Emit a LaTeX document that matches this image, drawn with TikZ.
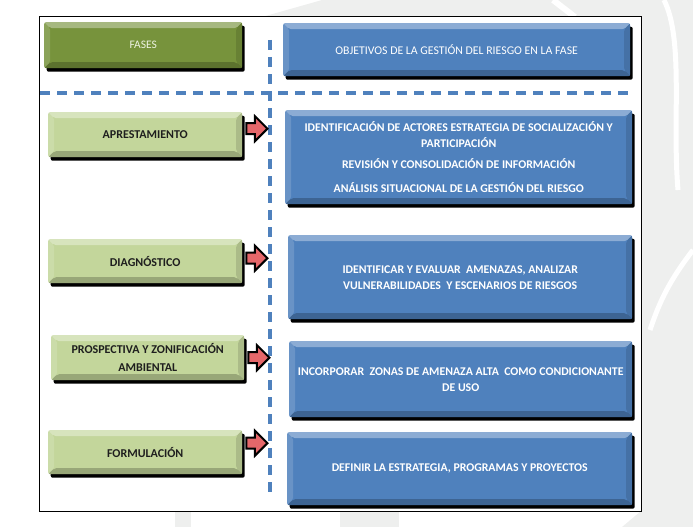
\documentclass[tikz,border=0pt]{standalone}
\usepackage{fontspec}
\setmainfont{Carlito}
\usetikzlibrary{positioning,shadows,shapes.arrows}
\definecolor{hdgreen}{HTML}{77933C}
\definecolor{phgreen}{HTML}{C3D69B}
\definecolor{objblue}{HTML}{4F81BD}
\definecolor{arrred}{HTML}{E5676A}
\definecolor{hdtext}{HTML}{EEF3E2}
\definecolor{phtext}{HTML}{1E1E1E}
\definecolor{wmark}{HTML}{EEEFEE}
\def\bw{6pt}
\tikzset{
  bevel/.style={path picture={
    \coordinate (pnw) at (path picture bounding box.north west);
    \coordinate (pne) at (path picture bounding box.north east);
    \coordinate (psw) at (path picture bounding box.south west);
    \coordinate (pse) at (path picture bounding box.south east);
    \fill[white, opacity=.35] (pnw) -- (pne) -- ([shift={(-\bw,-\bw)}]pne) -- ([shift={(\bw,-\bw)}]pnw) -- cycle;
    \fill[white, opacity=.15] (pnw) -- (psw) -- ([shift={(\bw,\bw)}]psw) -- ([shift={(\bw,-\bw)}]pnw) -- cycle;
    \fill[black, opacity=.12] (pne) -- (pse) -- ([shift={(-\bw,\bw)}]pse) -- ([shift={(-\bw,-\bw)}]pne) -- cycle;
    \fill[black, opacity=.22] (psw) -- (pse) -- ([shift={(-\bw,\bw)}]pse) -- ([shift={(\bw,\bw)}]psw) -- cycle;
  }},
  box/.style={rectangle, rounded corners=2pt, bevel, inner sep=2pt, align=center, anchor=north west,
    drop shadow={shadow xshift=2.5pt, shadow yshift=-3.5pt, fill=black, opacity=1}},
  hdbox/.style={box, fill=hdgreen, text=hdtext, font=\fontsize{11.5}{13}\selectfont},
  phbox/.style={box, fill=phgreen, text=phtext, font=\bfseries\fontsize{12}{18}\selectfont},
  objbox/.style={box, fill=objblue, text=white, font=\bfseries\fontsize{11.8}{16}\selectfont},
  arrbox/.style={single arrow, fill=arrred, draw=black, line width=2pt, anchor=west,
    minimum height=21pt, inner sep=4.5pt, single arrow head extend=7pt, single arrow head indent=0pt},
  divider/.style={draw=objblue, line width=3.5pt, dash pattern=on 10pt off 7pt},
}
\begin{document}
\begin{tikzpicture}[x=1pt, y=-1pt]
  \useasboundingbox (0,0) rectangle (693,527);
  % watermark and frame
  \fill[wmark] (262,17) -- (322,0) -- (693,0) -- (693,527) -- (622,527) -- (641,511) -- cycle;
  \fill[wmark] (175,511) rectangle (191,527);
  \fill[wmark] (340,511) rectangle (399,527);
  \draw[white, line width=6pt] (553,0) -- (575,17);
  \draw[white, line width=5pt] (664,0) .. controls (684,40) and (672,120) .. (678,190);
  \draw[white, line width=5pt] (693,250) .. controls (670,280) and (660,300) .. (650,330);
  \filldraw[fill=white, draw=black, line width=1pt] (39,17) rectangle (641,511);

  % dividers
  \draw[divider] (40,93) -- (628,93);
  \draw[divider] (270,40) -- (270,492);

  % header row
  \node[hdbox, minimum width=198pt, minimum height=46pt] (fases) at (44,22) {FASES};
  \node[objbox, font=\fontsize{11.8}{13}\selectfont, minimum width=347pt, minimum height=53pt] (obj) at (283,23)
    {OBJETIVOS DE LA GESTIÓN DEL RIESGO EN LA FASE};

  % APRESTAMIENTO
  \node[phbox, minimum width=194pt, minimum height=45pt] (apr) at (48,112) {APRESTAMIENTO};
  \node[objbox, minimum width=347pt, minimum height=94pt] (oapr) at (285,110)
    {IDENTIFICACIÓN DE ACTORES ESTRATEGIA DE SOCIALIZACIÓN Y\\PARTICIPACIÓN\\[5pt]
     REVISIÓN Y CONSOLIDACIÓN DE INFORMACIÓN\\[8pt]
     ANÁLISIS SITUACIONAL DE LA GESTIÓN DEL RIESGO};
  \node[arrbox] (aapr) at ([xshift=3pt, yshift=6pt]apr.east) {};

  % DIAGNOSTICO
  \node[phbox, minimum width=194pt, minimum height=44pt] (diag) at (48,239) {DIAGNÓSTICO};
  \node[objbox, minimum width=344pt, minimum height=84pt] (odiag) at (288,235)
    {IDENTIFICAR Y EVALUAR \ AMENAZAS, ANALIZAR\\VULNERABILIDADES \ Y ESCENARIOS DE RIESGOS};
  \node[arrbox] (adiag) at ([xshift=3pt, yshift=3pt]diag.east) {};

  % PROSPECTIVA
  \node[phbox, minimum width=193pt, minimum height=45pt] (pros) at (51,335)
    {PROSPECTIVA Y ZONIFICACIÓN\\AMBIENTAL};
  \node[objbox, minimum width=343pt, minimum height=76pt] (opros) at (289,341)
    {INCORPORAR \ ZONAS DE AMENAZA ALTA \ COMO CONDICIONANTE\\DE USO};
  \node[arrbox] (apros) at ([xshift=3pt]pros.east) {};

  % FORMULACION
  \node[phbox, minimum width=194pt, minimum height=44pt] (form) at (48,430) {FORMULACIÓN};
  \node[objbox, minimum width=345pt, minimum height=73pt] (oform) at (287,432)
    {DEFINIR LA ESTRATEGIA, PROGRAMAS Y PROYECTOS};
  \node[arrbox] (aform) at ([xshift=3pt, yshift=9pt]form.east) {};
\end{tikzpicture}
\end{document}
